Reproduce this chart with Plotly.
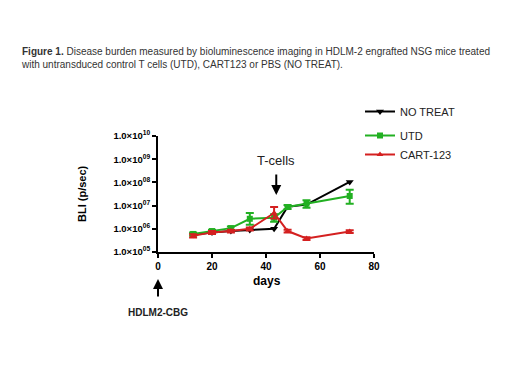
import plotly.graph_objects as go

days = [13, 20, 27, 34, 43, 48, 55, 71]
no_treat = [5.5e5, 7.0e5, 8.0e5, 8.8e5, 1.0e6, 9.0e6, 1.1e7, 1.05e8]
utd = [6.0e5, 8.0e5, 1.07e6, 2.7e6, 3.0e6, 8.7e6, 1.2e7, 2.6e7]
utd_err_plus = [1.0e5, 1.2e5, 2.0e5, 2.1e6, 1.2e6, 2.0e6, 5.0e6, 2.2e7]
utd_err_minus = [1.0e5, 1.2e5, 2.0e5, 1.2e6, 1.0e6, 1.5e6, 4.0e6, 1.4e7]
cart = [5.0e5, 7.0e5, 8.0e5, 1.0e6, 4.8e6, 8.0e5, 3.8e5, 7.6e5]
cart_err_plus = [8.0e4, 1.0e5, 1.0e5, 1.5e5, 3.9e6, 1.0e5, 5.0e4, 1.0e5]
cart_err_minus = [8.0e4, 1.0e5, 1.0e5, 1.5e5, 2.0e6, 1.0e5, 5.0e4, 1.0e5]

x_ticks = [0, 20, 40, 60, 80]
y_tickvals = [1e5, 1e6, 1e7, 1e8, 1e9, 1e10]
y_ticktext = ["1.0×10<sup>05</sup>", "1.0×10<sup>06</sup>", "1.0×10<sup>07</sup>",
              "1.0×10<sup>08</sup>", "1.0×10<sup>09</sup>", "1.0×10<sup>10</sup>"]

FONT = "Liberation Sans, Arial, sans-serif"

# page has an 8px body margin: work in page pixels minus 8
OFF = 8
W, H = 512, 382
L, T = 158 - OFF, 136 - OFF
PW, PH = 216, 116


def py(page_y):
    """paper y from a page pixel y"""
    return (T + PH - (page_y - OFF)) / PH


def px(page_x):
    return ((page_x - OFF) - L) / PW


fig = go.Figure()
fig.add_trace(go.Scatter(
    x=days, y=no_treat, name="NO TREAT", mode="lines+markers",
    line=dict(color="black", width=2),
    marker=dict(symbol="triangle-down", size=7, color="black"),
    legendgroup="a", legendrank=1))
fig.add_trace(go.Scatter(
    x=days, y=utd, name="UTD", mode="lines+markers",
    line=dict(color="#22b022", width=2),
    marker=dict(symbol="square", size=6, color="#22b022"),
    error_y=dict(type="data", array=utd_err_plus, arrayminus=utd_err_minus,
                 color="#22b022", thickness=2, width=4),
    legendgroup="b", legendrank=2))
fig.add_trace(go.Scatter(
    x=days, y=cart, name="CART-123", mode="lines+markers",
    line=dict(color="#d42020", width=2),
    marker=dict(symbol="triangle-up", size=6, color="#d42020"),
    error_y=dict(type="data", array=cart_err_plus, arrayminus=cart_err_minus,
                 color="#d42020", thickness=2, width=4),
    legendgroup="b", legendrank=3))

fig.update_layout(
    width=W, height=H,
    margin=dict(l=L, r=W - L - PW, t=T, b=H - T - PH, autoexpand=False),
    paper_bgcolor="white", plot_bgcolor="white",
    font=dict(family=FONT, color="black"),
    showlegend=True,
    legend=dict(x=px(360), xanchor="left", y=py(97), yanchor="top",
                font=dict(size=11, color="#222"), tracegroupgap=5,
                itemwidth=30, bgcolor="rgba(0,0,0,0)"),
    title=dict(
        text="<b>Figure 1.</b> Disease burden measured by bioluminescence imaging in HDLM-2 engrafted NSG mice treated<br>with untransduced control T cells (UTD), CART123 or PBS (NO TREAT).",
        x=(22 - OFF) / W, xanchor="left", y=1 - (55 - OFF) / H, yanchor="middle",
        font=dict(size=10, color="#333", family=FONT)),
)

fig.update_xaxes(range=[0, 80], tickvals=x_ticks, showgrid=False, zeroline=False,
                 showline=True, linecolor="black", linewidth=2,
                 ticks="outside", ticklen=4, tickwidth=2, tickcolor="black",
                 ticktext=["<b>%d</b>" % v for v in x_ticks],
                 tickfont=dict(size=10, family=FONT))
fig.update_yaxes(type="log", range=[5, 10], tickvals=y_tickvals,
                 ticktext=["<b>%s</b>" % t for t in y_ticktext],
                 showgrid=False, zeroline=False,
                 showline=True, linecolor="black", linewidth=2,
                 ticks="outside", ticklen=4, tickwidth=2, tickcolor="black",
                 tickfont=dict(size=9.5, family=FONT))

# x axis title
fig.add_annotation(text="<b>days</b>", xref="x", yref="paper",
                   x=40.5, y=py(281), xanchor="center", yanchor="middle",
                   showarrow=False, font=dict(size=12))
# y axis title
fig.add_annotation(text="<b>BLI (p/sec)</b>", xref="paper", yref="paper",
                   x=px(82), y=py(194), xanchor="center", yanchor="middle",
                   showarrow=False, textangle=-90, font=dict(size=11))
# T-cells marker
fig.add_annotation(text="T-cells", xref="x", yref="paper", x=43.8, y=py(160),
                   xanchor="center", yanchor="middle",
                   showarrow=False, font=dict(size=13, color="#222"))
fig.add_annotation(text="", xref="x", yref="paper", x=43.8, y=py(195),
                   ax=0, ay=-22, showarrow=True, arrowhead=2, arrowsize=1,
                   arrowwidth=2, arrowcolor="black")
# HDLM2-CBG marker
fig.add_annotation(text="", xref="x", yref="paper", x=0, y=py(279),
                   ax=0, ay=19, showarrow=True, arrowhead=2, arrowsize=1,
                   arrowwidth=2, arrowcolor="black")
fig.add_annotation(text="<b>HDLM2-CBG</b>", xref="x", yref="paper", x=0, y=py(312),
                   xanchor="center", yanchor="middle",
                   showarrow=False, font=dict(size=10, color="#222"))

fig.write_html("out.html")
